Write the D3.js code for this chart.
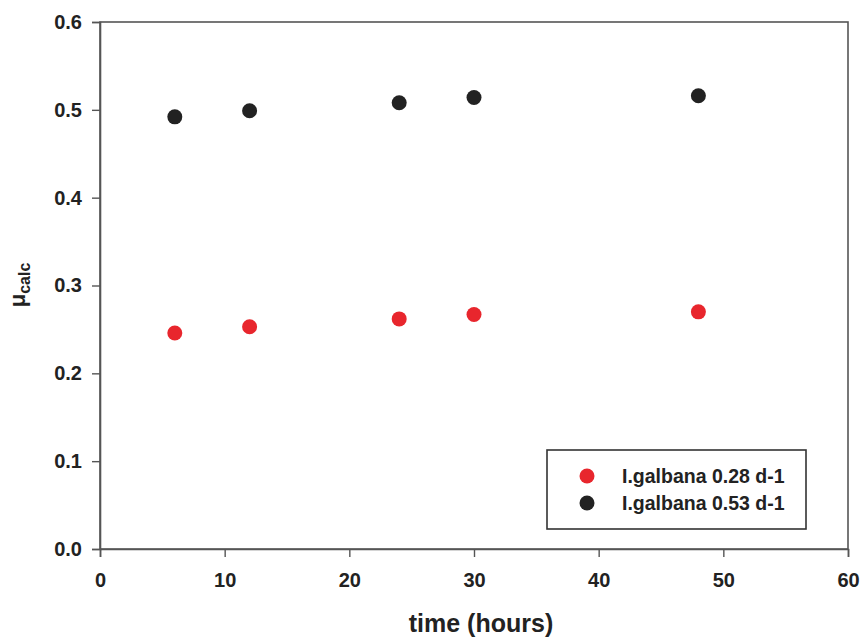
<!DOCTYPE html>
<html>
<head>
<meta charset="utf-8">
<script src="https://cdn.jsdelivr.net/npm/d3@7"></script>
<style>
  body { margin: 0; background: #fff; }
  svg text { font-family: "Liberation Sans", Arial, sans-serif; fill: #222; }
</style>
</head>
<body>
<svg id="chart" width="866" height="641"></svg>
<script>
// Sampling times (hours)
const hours = [6, 12, 24, 30, 48];
// Calculated growth rate for the two cultures
const muLow = [0.246, 0.253, 0.262, 0.267, 0.270];
const muHigh = [0.492, 0.499, 0.508, 0.514, 0.516];
const seriesNames = ["I.galbana 0.28 d-1", "I.galbana 0.53 d-1"];
const seriesColors = ["#e8262d", "#222222"];
const xTicks = [0, 10, 20, 30, 40, 50, 60];
const yTicks = [0.0, 0.1, 0.2, 0.3, 0.4, 0.5, 0.6];

const svg = d3.select("#chart");
const plot = { left: 100, right: 848, top: 22, bottom: 549 };

const x = d3.scaleLinear().domain([0, 60]).range([plot.left, plot.right]);
const y = d3.scaleLinear().domain([0, 0.6]).range([plot.bottom, plot.top]);

const axisColor = "#555";

// Plot frame
svg.append("rect")
  .attr("x", plot.left).attr("y", plot.top)
  .attr("width", plot.right - plot.left).attr("height", plot.bottom - plot.top)
  .attr("fill", "none").attr("stroke", axisColor).attr("stroke-width", 1.6);

// X axis
const gx = svg.append("g")
  .attr("transform", `translate(0,${plot.bottom})`)
  .call(d3.axisBottom(x).tickValues(xTicks).tickSize(8).tickPadding(16).tickFormat(d3.format("d")));
gx.select(".domain").attr("stroke", axisColor).attr("stroke-width", 1.6);
gx.selectAll(".tick line").attr("stroke", axisColor).attr("stroke-width", 1.4);
gx.selectAll(".tick text")
  .style("font-size", "20px").style("font-weight", "bold").attr("fill", "#222");

// Y axis
const gy = svg.append("g")
  .attr("transform", `translate(${plot.left},0)`)
  .call(d3.axisLeft(y).tickValues(yTicks).tickSize(8).tickPadding(10).tickFormat(d3.format(".1f")));
gy.select(".domain").attr("stroke", axisColor).attr("stroke-width", 1.6);
gy.selectAll(".tick line").attr("stroke", axisColor).attr("stroke-width", 1.4);
gy.selectAll(".tick text")
  .style("font-size", "20px").style("font-weight", "bold").attr("fill", "#222");

// Axis titles
svg.append("text")
  .attr("x", 481).attr("y", 632)
  .attr("text-anchor", "middle")
  .style("font-size", "25px").style("font-weight", "bold")
  .text("time (hours)");

const yl = svg.append("text")
  .attr("transform", "translate(25,285) rotate(-90)")
  .attr("text-anchor", "middle")
  .style("font-size", "22px").style("font-weight", "bold");
yl.append("tspan").text("μ");
yl.append("tspan").attr("dy", 5).style("font-size", "16px").text("calc");

// Data points
const series = [muLow, muHigh];
series.forEach((vals, i) => {
  svg.append("g").selectAll("circle")
    .data(hours.map((h, j) => ({ h, v: vals[j] })))
    .join("circle")
    .attr("cx", d => x(d.h))
    .attr("cy", d => y(d.v))
    .attr("r", 7.5)
    .attr("fill", seriesColors[i]);
});

// Legend
const lg = svg.append("g");
lg.append("rect")
  .attr("x", 547).attr("y", 450).attr("width", 259).attr("height", 79)
  .attr("fill", "#fff").attr("stroke", "#333").attr("stroke-width", 1.6);
seriesNames.forEach((name, i) => {
  const cy = 476 + i * 27;
  lg.append("circle").attr("cx", 587).attr("cy", cy).attr("r", 7.5).attr("fill", seriesColors[i]);
  lg.append("text").attr("x", 622).attr("y", cy + 7)
    .style("font-size", "19.5px").style("font-weight", "bold")
    .text(name);
});
</script>
</body>
</html>
